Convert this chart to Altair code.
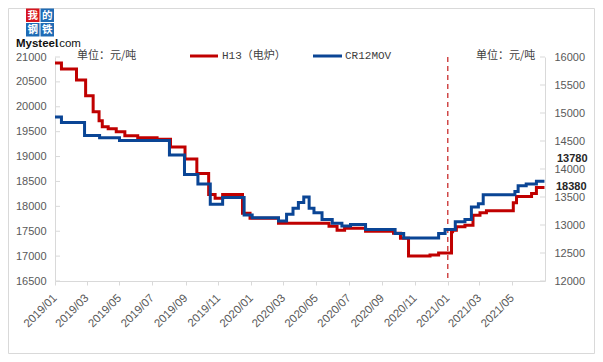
import altair as alt
import pandas as pd

# ---------------- data ----------------
red_dates = ["2019-01-01", "2019-01-13", "2019-02-10", "2019-02-27", "2019-03-13", "2019-03-24",
             "2019-03-30", "2019-04-10", "2019-04-25", "2019-05-11", "2019-06-04", "2019-07-10",
             "2019-08-04", "2019-08-31", "2019-09-22", "2019-10-14", "2019-10-26", "2019-11-09",
             "2019-12-16", "2019-12-30", "2020-02-21", "2020-05-25", "2020-06-09", "2020-06-23",
             "2020-08-01", "2020-09-22", "2020-10-05", "2020-10-20", "2020-11-29", "2020-12-15",
             "2021-01-08", "2021-01-10", "2021-01-17", "2021-02-02", "2021-02-17", "2021-03-02",
             "2021-03-14", "2021-05-03", "2021-05-09", "2021-06-06", "2021-06-15", "2021-06-30"]
red_values = [20880, 20760, 20540, 20220, 19900, 19720, 19600, 19560, 19500, 19420, 19380, 19350,
              19190, 18950, 18660, 18240, 18160, 18240, 17860, 17760, 17660, 17600, 17520, 17560,
              17500, 17460, 17360, 17000, 17020, 17060, 17490, 17520, 17590, 17620, 17820, 17870,
              17910, 18070, 18200, 18260, 18380, 18380]

blue_dates = ["2019-01-01", "2019-01-13", "2019-02-25", "2019-03-25", "2019-05-01", "2019-08-02",
              "2019-08-30", "2019-09-24", "2019-10-17", "2019-11-09", "2019-12-19", "2020-01-03",
              "2020-02-21", "2020-03-07", "2020-03-19", "2020-03-29", "2020-04-08", "2020-04-18",
              "2020-04-27", "2020-05-12", "2020-05-31", "2020-06-18", "2020-07-04", "2020-08-01",
              "2020-09-25", "2020-10-11", "2020-12-15", "2020-12-27", "2021-01-15", "2021-02-02",
              "2021-02-14", "2021-02-27", "2021-03-08", "2021-05-06", "2021-05-12", "2021-05-27",
              "2021-06-15", "2021-06-30"]
blue_values = [14930, 14830, 14600, 14560, 14510, 14250, 13900, 13730, 13370, 13490, 13180, 13130,
               13070, 13190, 13300, 13400, 13500, 13300, 13220, 13100, 13030, 12980, 13010, 12920,
               12850, 12770, 12850, 12920, 13060, 13100, 13320, 13380, 13540, 13600, 13700, 13730,
               13780, 13780]

series_names = ["H13（电炉）", "CR12MOV"]
x_tick_dates = ["2019-01", "2019-03", "2019-05", "2019-07", "2019-09", "2019-11",
                "2020-01", "2020-03", "2020-05", "2020-07", "2020-09", "2020-11",
                "2021-01", "2021-03", "2021-05"]
x_domain = ["2019-01", "2021-07"]
left_ticks = [16500, 17000, 17500, 18000, 18500, 19000, 19500, 20000, 20500, 21000]
right_ticks = [12000, 12500, 13000, 13500, 14000, 14500, 15000, 15500, 16000]
marker_date = ["2021-01-01"]
end_labels = ["13780", "18380"]
unit_label = "单位：元/吨"

# ---------------- styling ----------------
RED = "#C00000"
BLUE = "#0A4595"
AXIS = "#D9D9D9"
LABEL = "#595959"
W, H = 490, 224


def dt(s):
    y, m = s.split("-")[:2]
    return alt.DateTime(year=int(y), month=int(m), date=1, utc=True)


red_df = pd.DataFrame({"date": red_dates, "value": red_values})
blue_df = pd.DataFrame({"date": blue_dates, "value": blue_values})
marker_df = pd.DataFrame({"date": marker_date})
dummy = pd.DataFrame({"a": [0]})

x_axis = alt.Axis(
    values=[dt(s) for s in x_tick_dates],
    labelExpr="utcFormat(datum.value, '%Y/%m')",
    labelAngle=-45, labelAlign="right", labelBaseline="middle", labelPadding=11,
    labelColor=LABEL, labelFont="Liberation Sans", labelFontSize=11.5,
    labelOverlap=False, labelFlush=False, labelBound=False,
    domainColor=AXIS, tickColor=AXIS, tickSize=4, grid=False,
)
x_scale = alt.Scale(type="utc", domain=[dt(x_domain[0]), dt(x_domain[1])])
x_enc = alt.X("date:T", title=None, scale=x_scale, axis=x_axis)

left_scale = alt.Scale(domain=[16500, 21000], nice=False, zero=False)
right_scale = alt.Scale(domain=[12000, 16000], nice=False, zero=False)

red_line = alt.Chart(red_df).mark_line(
    interpolate="step-after", color=RED, strokeWidth=3
).encode(
    x=x_enc,
    y=alt.Y("value:Q", title=None, scale=left_scale,
            axis=alt.Axis(orient="left", values=left_ticks, format="d", labelColor=LABEL,
                          labelFont="Liberation Sans", labelFontSize=11, labelPadding=9,
                          domainColor=AXIS, tickSize=0, grid=False, labelFlush=False,
                          labelOverlap=False)),
)

blue_line = alt.Chart(blue_df).mark_line(
    interpolate="step-after", color=BLUE, strokeWidth=3
).encode(
    x=x_enc,
    y=alt.Y("value:Q", title=None, scale=right_scale,
            axis=alt.Axis(orient="right", values=right_ticks, format="d", labelColor=LABEL,
                          labelFont="Liberation Sans", labelFontSize=11, labelPadding=9,
                          domainColor=AXIS, tickSize=0, grid=False, labelFlush=False,
                          labelOverlap=False)),
)

left_tick_marks = alt.Chart(pd.DataFrame({"v": left_ticks})).mark_rule(color=AXIS).encode(
    y=alt.Y("v:Q", scale=left_scale, axis=None), x=alt.value(0), x2=alt.value(5)
)
right_tick_marks = alt.Chart(pd.DataFrame({"v": right_ticks})).mark_rule(color=AXIS).encode(
    y=alt.Y("v:Q", scale=right_scale, axis=None), x=alt.value(W - 5), x2=alt.value(W)
)

marker = alt.Chart(marker_df).mark_rule(
    color="#D04848", strokeDash=[5, 4], strokeWidth=1.5
).encode(x=x_enc)


def text(s, x, y, size=11, color="#404040", font="Noto Sans CJK SC", weight="normal",
         align="left"):
    return alt.Chart(dummy).mark_text(
        text=s, align=align, baseline="middle", fontSize=size, color=color,
        font=font, fontWeight=weight
    ).encode(x=alt.value(x), y=alt.value(y))


def rect(x, x2, y, y2, fill):
    return alt.Chart(dummy).mark_rect(fill=fill).encode(
        x=alt.value(x), x2=alt.value(x2), y=alt.value(y), y2=alt.value(y2))


def seg(x, x2, y, color):
    return alt.Chart(dummy).mark_rule(color=color, strokeWidth=3).encode(
        x=alt.value(x), x2=alt.value(x2), y=alt.value(y))


border = alt.Chart(dummy).mark_rect(fill=None, stroke=AXIS, strokeWidth=1).encode(
    x=alt.value(-46.5), x2=alt.value(539.5), y=alt.value(-48.5), y2=alt.value(296.5))

logo = [
    rect(-29, -15.5, -48.5, -35, "#D7141E"), rect(-14.5, -1, -48.5, -35, "#1F6BB5"),
    rect(-29, -15.5, -34, -20.5, "#1F6BB5"), rect(-14.5, -1, -34, -20.5, "#1F6BB5"),
    text("我", -22.2, -41.5, size=10.5, color="white", weight="bold", align="center"),
    text("的", -7.7, -41.5, size=10.5, color="white", weight="bold", align="center"),
    text("钢", -22.2, -27, size=10.5, color="white", weight="bold", align="center"),
    text("铁", -7.7, -27, size=10.5, color="white", weight="bold", align="center"),
    text("Mysteel", -39, -13.5, size=11.5, color="#111111", font="Liberation Sans",
         weight="bold"),
    text(".com", 1, -13.5, size=11.5, color="#111111", font="Liberation Sans"),
]

legend = [
    seg(135, 163, -1, RED),
    text(series_names[0], 167, -1, size=11, color="#404040",
         font="Liberation Mono, Noto Sans CJK SC"),
    seg(258, 287, -1, BLUE),
    text(series_names[1], 290, -1, size=11, color="#404040",
         font="Liberation Mono, Noto Sans CJK SC"),
]

annotations = [
    text(unit_label, 22, -1.5, size=11, color="#404040"),
    text(unit_label, 421, -1.5, size=11, color="#404040"),
    text(end_labels[0], 502, 102, size=11, color="#262626", font="Liberation Sans",
         weight="bold"),
    text(end_labels[1], 501, 130, size=11, color="#262626", font="Liberation Sans",
         weight="bold"),
]

chart = alt.layer(
    border, marker, red_line, blue_line, left_tick_marks, right_tick_marks,
    *legend, *annotations, *logo
).resolve_scale(
    y="independent"
).properties(
    width=W, height=H,
    autosize=alt.AutoSizeParams(type="none"),
    padding={"left": 47, "top": 49, "right": 50, "bottom": 73},
    background="white",
).configure_view(stroke=None)

chart.save("out.html", embed_options={"renderer": "svg", "actions": False})
